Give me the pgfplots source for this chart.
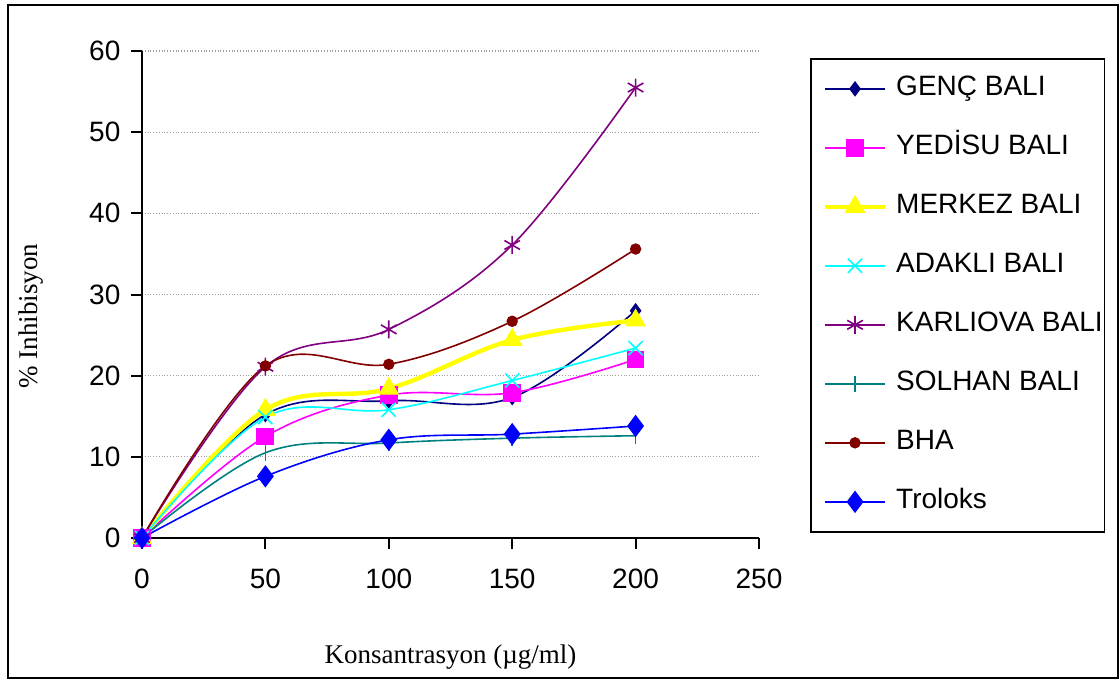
\documentclass[border=0pt]{standalone}
\usepackage{pgfplots}
\pgfplotsset{compat=1.18}
\usepackage{fontspec}
\setmainfont{Liberation Sans}
\newfontfamily\timesfont{Liberation Serif}

\definecolor{cNavy}{HTML}{000080}
\definecolor{cMagenta}{HTML}{FF00FF}
\definecolor{cYellow}{HTML}{FFFF00}
\definecolor{cCyan}{HTML}{00FFFF}
\definecolor{cPurple}{HTML}{800080}
\definecolor{cTeal}{HTML}{008080}
\definecolor{cMaroon}{HTML}{800000}
\definecolor{cBlue}{HTML}{0000FF}

\begin{document}
\begin{tikzpicture}
\useasboundingbox (0pt,0pt) rectangle (560pt,340pt);
\begin{axis}[
  at={(71pt,71pt)}, anchor=origin,
  scale only axis, width=308.5pt, height=243.5pt,
  xmin=0, xmax=250, ymin=0, ymax=60,
  xtick={0,50,...,250}, ytick={0,10,...,60},
  axis x line=bottom, axis y line=left,
  axis line style={-, line width=1pt, black},
  tick style={black, line width=1pt},
  tick align=outside, major tick length=5.3pt,
  ymajorgrids,
  major grid style={gray!75, densely dotted, line width=0.6pt},
  /pgf/number format/assume math mode=true,
  tick label style={font=\fontsize{14}{16}\selectfont},
  xticklabel style={yshift=-6.5pt},
  yticklabel style={xshift=-2pt},
  xlabel={\timesfont Konsantrasyon (µg/ml)},
  ylabel={\timesfont \% Inhibisyon},
  xlabel style={at={(axis description cs:0.5,-0.2444)}, anchor=center,
    font=\fontsize{13.5}{15}\selectfont},
  ylabel style={at={(axis description cs:-0.1802,0.456)}, anchor=center,
    font=\fontsize{13.5}{15}\selectfont},
  clip=false,
  every axis plot/.append style={smooth, tension=0.6},
  legend cell align=left,
  legend style={at={(1.0827,0.9856)}, anchor=north west,
    draw=black, line width=0.8pt,
    font=\fontsize{14}{16}\selectfont,
    inner xsep=1pt, inner ysep=8.5pt,
    row sep=16.5pt, column sep=4.5pt,
    nodes={inner sep=0pt, text height=10pt, text depth=3pt}},
  legend image code/.code={
    \path (0pt,0pt);
    \draw[mark repeat=2, mark phase=2] plot coordinates {(5pt,0pt) (20pt,0pt) (35pt,0pt)};
  },
]
% honey samples and references, inhibition (%) vs concentration
\addplot[cNavy, line width=0.8pt, mark=diamond*, mark size=3.5pt,
  mark options={solid, fill=cNavy, draw=cNavy, line width=0.5pt}]
  coordinates {(0,0) (50,15.2) (100,16.9) (150,17.3) (200,28.0)};
\addlegendentry{GENÇ BALI}

\addplot[cMagenta, line width=0.8pt, mark=square*, mark size=4.2pt,
  mark options={solid, fill=cMagenta, draw=cMagenta, line width=0.5pt}]
  coordinates {(0,0) (50,12.5) (100,17.6) (150,17.9) (200,22.0)};
\addlegendentry{YEDİSU BALI}

\addplot[cYellow, line width=2.2pt, mark=triangle*, mark size=5.5pt,
  mark options={solid, fill=cYellow, draw=cYellow, line width=0.5pt}]
  coordinates {(0,0) (50,15.8) (100,18.4) (150,24.4) (200,26.8)};
\addlegendentry{MERKEZ BALI}

\addplot[cCyan, line width=0.8pt, mark=x, mark size=5pt,
  mark options={solid, draw=cCyan, line width=0.8pt}]
  coordinates {(0,0) (50,14.9) (100,15.8) (150,19.4) (200,23.4)};
\addlegendentry{ADAKLI BALI}

\addplot[cPurple, line width=0.8pt, mark=asterisk, mark size=4.5pt,
  mark options={solid, draw=cPurple, line width=0.8pt}]
  coordinates {(0,0) (50,21.1) (100,25.7) (150,36.1) (200,55.5)};
\addlegendentry{KARLIOVA BALI}

\addplot[cTeal, line width=0.8pt, mark=|, mark size=4pt,
  mark options={solid, draw=cTeal, line width=0.8pt}]
  coordinates {(0,0) (50,10.5) (100,11.7) (150,12.3) (200,12.6)};
\addlegendentry{SOLHAN BALI}

\addplot[cMaroon, line width=0.8pt, mark=*, mark size=2.6pt,
  mark options={solid, fill=cMaroon, draw=cMaroon, line width=0.5pt}]
  coordinates {(0,0) (50,21.2) (100,21.4) (150,26.7) (200,35.6)};
\addlegendentry{BHA}

\addplot[cBlue, line width=0.8pt, mark=diamond*, mark size=5.2pt,
  mark options={solid, fill=cBlue, draw=cBlue, line width=0.5pt}]
  coordinates {(0,0) (50,7.6) (100,12.1) (150,12.8) (200,13.8)};
\addlegendentry{Troloks}
\end{axis}
% outer chart frame
\draw[black, line width=1.3pt] (4pt,1pt) rectangle (559pt,337.5pt);
\end{tikzpicture}
\end{document}
